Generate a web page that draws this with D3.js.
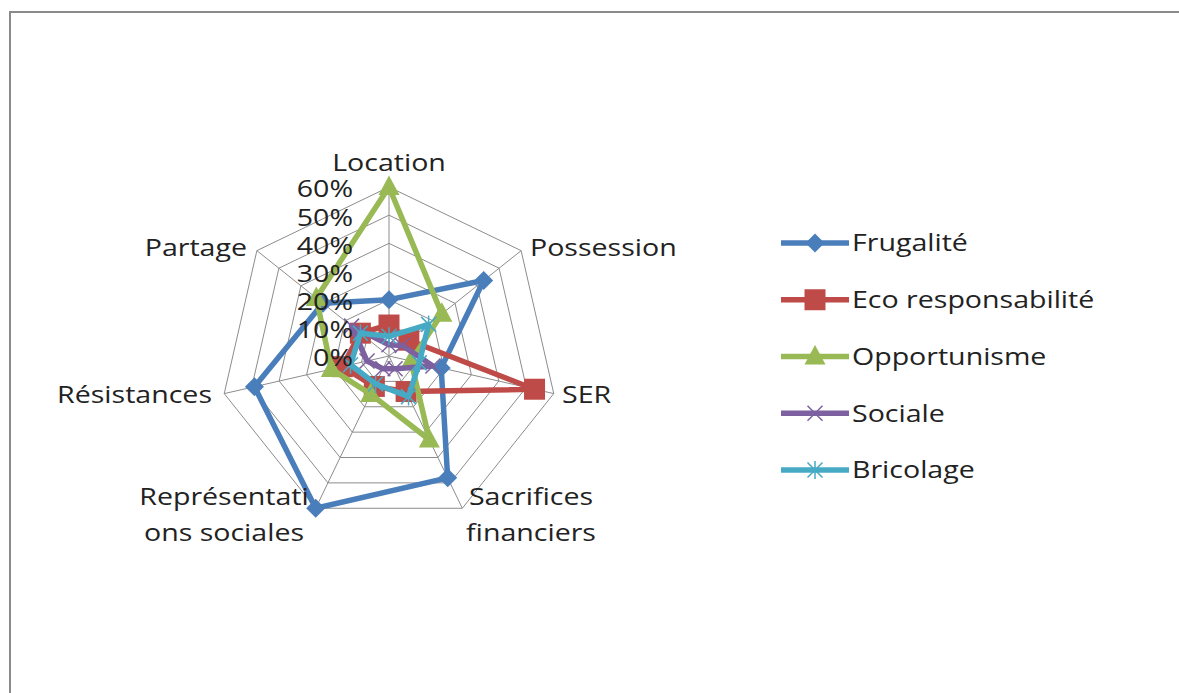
<!DOCTYPE html>
<html><head><meta charset="utf-8">
<script src="https://cdn.jsdelivr.net/npm/d3@7"></script>
<style>body{margin:0;background:#fff}svg{display:block}</style>
</head><body>
<svg id="c" width="1179" height="693"></svg>
<script>
const axes = ["Location","Possession","SER","Sacrifices financiers","Représentations sociales","Résistances","Partage"];
const seriesNames = ["Frugalité","Eco responsabilité","Opportunisme","Sociale","Bricolage"];
const frugalite = [0.20,0.43,0.19,0.48,0.60,0.49,0.30];
const ecoResp   = [0.11,0.09,0.53,0.14,0.12,0.17,0.13];
const opportun  = [0.60,0.24,0.08,0.33,0.15,0.21,0.33];
const sociale   = [0.04,0.06,0.16,0.05,0.05,0.08,0.17];
const bricolage = [0.07,0.18,0.11,0.16,0.11,0.14,0.13];
const ticks = [0,0.1,0.2,0.3,0.4,0.5,0.6];
const tickLabels = ["0%","10%","20%","30%","40%","50%","60%"];
const axisLabelLines = [["Location"],["Possession"],["SER"],["Sacrifices","financiers"],["Représentati","ons sociales"],["Résistances"],["Partage"]];

const colors = ["#4A7EBB","#BE4B48","#98B954","#7D60A0","#46AAC5"];
const markers = ["diamond","square","triangle","x","star"];
const allSeries = [frugalite, ecoResp, opportun, sociale, bricolage];

const svg = d3.select("#c");
const font = "'Open Sans', 'Noto Sans', sans-serif";
const fs = 24;
const sx = 1.19;

function addText(x, y, txt, anchor){
  return svg.append("text").attr("transform",`translate(${x},${y}) scale(${sx},1)`).attr("dy","0.35em")
    .attr("text-anchor",anchor).attr("font-family",font).attr("font-size",fs).attr("fill","#222").text(txt);
}

// frame
svg.append("path").attr("d","M10,700 L10,12 L1190,12").attr("fill","none").attr("stroke","#8a8a8a").attr("stroke-width",2);

const cx = 389, cy = 356, R = 169;
const r = d3.scaleLinear().domain([0,0.6]).range([0,R]);
const ang = d3.scaleLinear().domain([0,axes.length]).range([0,2*Math.PI]);
const pt = (i,v) => [cx + r(v)*Math.sin(ang(i)), cy - r(v)*Math.cos(ang(i))];

const g = svg.append("g");
ticks.slice(1).forEach(t => {
  g.append("path").attr("d", d3.line()(axes.map((a,i)=>pt(i,t))) + "Z")
    .attr("fill","none").attr("stroke","#8c8c8c").attr("stroke-width",1);
});
axes.forEach((a,i)=>{
  g.append("line").attr("x1",cx).attr("y1",cy).attr("x2",pt(i,0.6)[0]).attr("y2",pt(i,0.6)[1])
    .attr("stroke","#8c8c8c").attr("stroke-width",1);
});

const labelPos = [
  {x:389,y:163,anchor:"middle"},
  {x:530,y:248,anchor:"start"},
  {x:562,y:395,anchor:"start"},
  {x:531,y:497,anchor:"middle"},
  {x:224,y:497,anchor:"middle"},
  {x:212,y:395,anchor:"end"},
  {x:247,y:248,anchor:"end"}
];
axisLabelLines.forEach((lines,i)=>{
  const p = labelPos[i];
  lines.forEach((ln,k)=> addText(p.x, p.y+k*36, ln, p.anchor));
});

function markerPath(type, size){
  const s = size/2;
  switch(type){
    case "diamond": return `M0,${-s}L${s},0L0,${s}L${-s},0Z`;
    case "square": return `M${-s},${-s}H${s}V${s}H${-s}Z`;
    case "triangle": return `M0,${-s*1.1}L${s},${s*0.75}L${-s},${s*0.75}Z`;
    case "x": return `M${-s},${-s}L${s},${s}M${-s},${s}L${s},${-s}`;
    case "star": return `M${-s},${-s}L${s},${s}M${-s},${s}L${s},${-s}M0,${-s*1.2}V${s*1.2}`;
  }
}
const msize = [19,21,21,15,15];

allSeries.forEach((vals,si)=>{
  const pts = vals.map((v,i)=>pt(i,v));
  g.append("path").attr("d", d3.line()(pts)+"Z").attr("fill","none")
    .attr("stroke",colors[si]).attr("stroke-width",5.5).attr("stroke-linejoin","round");
  pts.forEach(p=>{
    const m = markers[si];
    const open = (m==="x"||m==="star");
    g.append("path").attr("d",markerPath(m,msize[si])).attr("transform",`translate(${p[0]},${p[1]})`)
      .attr("fill",open?"none":colors[si]).attr("stroke",open?colors[si]:"none").attr("stroke-width",open?1.5:0);
  });
});

ticks.forEach((t,k)=> addText(353, cy - r(t) + 2, tickLabels[k], "end"));

const legY = d3.scaleLinear().domain([0,4]).range([243,470]);
seriesNames.forEach((n,si)=>{
  const y = legY(si);
  const lg = svg.append("g");
  lg.append("line").attr("x1",781).attr("x2",849).attr("y1",y).attr("y2",y).attr("stroke",colors[si]).attr("stroke-width",5.5);
  const m = markers[si], open = (m==="x"||m==="star");
  lg.append("path").attr("d",markerPath(m,msize[si])).attr("transform",`translate(815,${y})`)
    .attr("fill",open?"none":colors[si]).attr("stroke",open?colors[si]:"none").attr("stroke-width",open?1.5:0);
  addText(852, y, n, "start");
});
</script>
</body></html>
